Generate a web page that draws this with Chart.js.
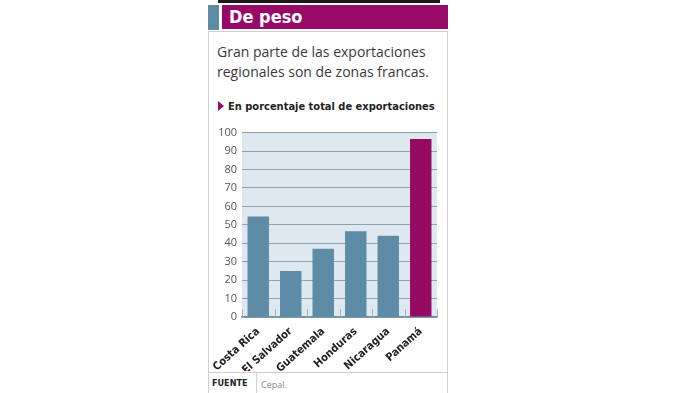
<!DOCTYPE html>
<html lang="es">
<head>
  <meta charset="UTF-8">
  <title>De peso - Zonas francas</title>
  <script src="https://cdn.jsdelivr.net/npm/chart.js"></script>
  <style>
    body {
      margin: 0;
      width: 700px;
      height: 393px;
      background: #fff;
      position: relative;
      overflow: hidden;
      font-family: "Open Sans", Arial, sans-serif;
    }
    .topbar {
      position: absolute; left: 218px; top: 0; width: 222px; height: 3px;
      background: #1e1a1c;
    }
    .tab {
      position: absolute; left: 208px; top: 5px; width: 11px; height: 25px;
      background: #5f8ca5;
    }
    .header {
      position: absolute; left: 222px; top: 5px; width: 226px; height: 24px;
      background: #990a68;
      color: #fff;
      font-family: "DejaVu Sans Condensed", "DejaVu Sans", sans-serif;
      font-weight: bold;
      font-size: 18px;
      line-height: 24px;
      padding-left: 7px;
      box-sizing: border-box;
    }
    .panel {
      position: absolute; left: 208px; top: 31px; width: 240px; height: 370px;
      border: 1px solid #cfcfcf;
      box-sizing: border-box;
    }
    .sub {
      position: absolute; left: 217px; top: 42px;
      font-size: 14px; line-height: 20px; color: #3a3a3a;
    }
    .unit {
      position: absolute; left: 218px; top: 100px;
      font-family: "DejaVu Sans Condensed", "DejaVu Sans", sans-serif;
      font-weight: bold; font-size: 11px; color: #222;
      white-space: nowrap;
    }
    .unit span {
      display: inline-block; width: 0; height: 0;
      border-top: 5px solid transparent; border-bottom: 5px solid transparent;
      border-left: 6px solid #990a68;
      margin-right: 4px; vertical-align: -1px;
    }
    .chart-box {
      position: absolute; left: 208px; top: 121px; width: 239px; height: 250px;
    }
    .foot {
      position: absolute; left: 208px; top: 372px; width: 240px; height: 21px;
      border-top: 1px solid #cfcfcf;
      font-size: 9px; color: #888;
    }
    .foot b {
      position: absolute; left: 4px; top: 5px; color: #222;
      font-family: "DejaVu Sans Condensed", "DejaVu Sans", sans-serif;
      font-size: 9px;
    }
    .foot .div {
      position: absolute; left: 48px; top: 0; width: 1px; height: 21px; background: #cfcfcf;
    }
    .foot .src {
      position: absolute; left: 53px; top: 5px;
    }
  </style>
</head>
<body>
  <div class="topbar"></div>
  <div class="tab"></div>
  <div class="header">De peso</div>
  <div class="panel"></div>
  <div class="sub">Gran parte de las exportaciones<br>regionales son de zonas francas.</div>
  <div class="unit"><span></span>En porcentaje total de exportaciones</div>
  <div class="chart-box"><canvas id="chart" width="239" height="250"></canvas></div>
  <div class="foot"><b>FUENTE</b><div class="div"></div><div class="src">Cepal.</div></div>

  <script>
    // data
    const countries = ['Costa Rica', 'El Salvador', 'Guatemala', 'Honduras', 'Nicaragua', 'Panamá'];
    const shares = [54.5, 25, 37, 46.5, 44, 96.5];
    const barColors = ['#5e8ba6', '#5e8ba6', '#5e8ba6', '#5e8ba6', '#5e8ba6', '#950a62'];

    // light blue plot background + short ticks between categories
    const plotDeco = {
      id: 'plotDeco',
      beforeDraw(chart) {
        const a = chart.chartArea;
        const c = chart.ctx;
        c.save();
        c.fillStyle = '#dfe8ef';
        c.fillRect(a.left, a.top, a.right - a.left, a.bottom - a.top);
        c.restore();
      },
      afterDatasetsDraw(chart) {
        const x = chart.scales.x;
        const y = chart.scales.y;
        const c = chart.ctx;
        const step = x.width / countries.length;
        const base = y.getPixelForValue(0);
        c.save();
        c.strokeStyle = '#9fb2c0';
        c.lineWidth = 1;
        for (let i = 0; i <= countries.length; i++) {
          const px = Math.round(x.left + i * step) + 0.5;
          c.beginPath();
          c.moveTo(px, base);
          c.lineTo(px, base - 8);
          c.stroke();
        }
        c.restore();
      }
    };

    const ctx = document.getElementById('chart').getContext('2d');
    new Chart(ctx, {
      type: 'bar',
      data: {
        labels: countries,
        datasets: [{
          data: shares,
          backgroundColor: barColors,
          barPercentage: 0.66,
          categoryPercentage: 1.0
        }]
      },
      options: {
        responsive: false,
        animation: false,
        layout: { padding: { top: 7, right: 10, left: 0, bottom: 0 } },
        plugins: {
          legend: { display: false },
          tooltip: { enabled: false }
        },
        scales: {
          y: {
            min: 0,
            max: 100,
            ticks: {
              stepSize: 10,
              color: '#555',
              padding: 5,
              font: { family: "'Open Sans', sans-serif", size: 11 }
            },
            grid: { color: '#8ba2b2', drawTicks: false },
            border: { display: false },
            afterFit(scale) { scale.width = 34; }
          },
          x: {
            grid: { display: false },
            border: { color: '#6f8da1', width: 1.5 },
            ticks: {
              color: '#222',
              minRotation: 42,
              maxRotation: 42,
              padding: 0,
              font: { family: "'DejaVu Sans Condensed', 'DejaVu Sans', sans-serif", weight: 'bold', size: 11 }
            },
            afterFit(scale) { scale.height = 54; }
          }
        }
      },
      plugins: [plotDeco]
    });
  </script>
</body>
</html>
